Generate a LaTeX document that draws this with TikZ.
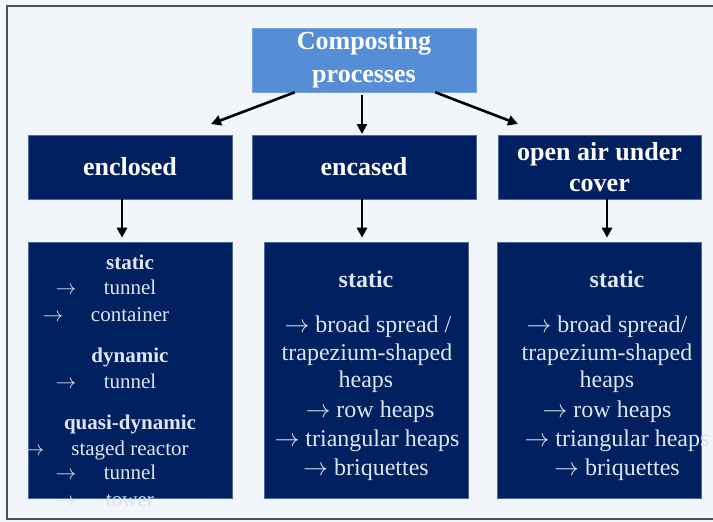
\documentclass[tikz,border=0pt]{standalone}
\usepackage{fontspec}
\setmainfont{Liberation Serif}
\usetikzlibrary{arrows.meta,calc}

\definecolor{pagebg}{HTML}{F2F5FA}
\definecolor{navy}{HTML}{002060}
\definecolor{navyedge}{HTML}{4A6A9C}
\definecolor{headblue}{HTML}{558ED5}
\definecolor{listtext}{HTML}{DCE6F2}
\definecolor{framegray}{HTML}{505050}
\definecolor{fadedtext}{HTML}{D4E3F2}

\tikzset{
  headbox/.style={draw=headblue!80!white, line width=0.6pt, fill=headblue, text=white,
    font=\bfseries\fontsize{26}{33}\selectfont, align=center, inner sep=0pt},
  catbox/.style={draw=navyedge, line width=0.6pt, fill=navy, text=white,
    font=\bfseries\fontsize{26}{31}\selectfont, align=center, inner sep=0pt},
  listbox/.style={draw=navyedge, line width=0.6pt, fill=navy, inner sep=0pt},
  bigitem/.style={text=listtext, font=\fontsize{24}{29}\selectfont, anchor=mid, inner sep=0pt,
    yshift=-5pt},
  bighead/.style={bigitem, font=\bfseries\fontsize{24}{29}\selectfont},
  smallitem/.style={text=listtext, font=\fontsize{21}{25}\selectfont, anchor=mid, inner sep=0pt,
    yshift=-4pt},
  smallhead/.style={smallitem, font=\bfseries\fontsize{21}{25}\selectfont},
  flow/.style={line width=2.6pt, -{Triangle[length=10pt,width=10pt]}},
}

\begin{document}
\begin{tikzpicture}[x=1pt,y=-1pt]
  % page and frame
  \fill[pagebg] (0,0) rectangle (713,522);
  \useasboundingbox (0,0) rectangle (713,522);
  \draw[framegray, line width=1.5pt] (713,6) -- (7,6) -- (7,519) -- (713,519);

  % top level
  \node[headbox, minimum width=224pt, minimum height=64pt] (top) at (364,60)
    {Composting\\processes};

  % categories
  \node[catbox, minimum width=204pt, minimum height=64pt] (encl) at (130,167) {enclosed};
  \node[catbox, minimum width=224pt, minimum height=64pt] (enca) at (364,167) {encased};
  \node[catbox, minimum width=203pt, minimum height=64pt] (open) at (599.5,167)
    {open air under\\cover};

  % detail boxes
  \node[listbox, minimum width=204pt, minimum height=256pt] (enclL) at (130,370) {};
  \node[listbox, minimum width=204pt, minimum height=256pt] (encaL) at (366,370) {};
  \node[listbox, minimum width=204pt, minimum height=256pt] (openL) at (599,370) {};

  % arrows from the top box
  \coordinate (tipL) at (211,124);
  \coordinate (tipM) at (362,134);
  \coordinate (tipR) at (518,124);
  \draw[flow] ([xshift=43pt]top.south west) -- (tipL);
  \draw[flow] ([yshift=-3pt]top.south -| tipM) -- (tipM);
  \draw[flow] ([xshift=-41pt]top.south east) -- (tipR);

  % arrows from categories to details
  \draw[flow, shorten >=4pt] (encl.south -| 122,0) -- (enclL.north -| 122,0);
  \draw[flow, shorten >=4pt] (enca.south -| 362,0) -- (encaL.north -| 362,0);
  \draw[flow, shorten >=4pt] (open.south -| 607,0) -- (openL.north -| 607,0);

  % enclosed: list
  \node[smallhead] (a1) at (130,263) {static};
  \node[smallitem] (a2a) at (66,288) {$\rightarrow$};
  \node[smallitem] (a2) at (130,288) {tunnel};
  \node[smallitem] (a3a) at (53,315) {$\rightarrow$};
  \node[smallitem] (a3) at (130,315) {container};
  \node[smallhead] (a4) at (130,356) {dynamic};
  \node[smallitem] (a5a) at (66,382) {$\rightarrow$};
  \node[smallitem] (a5) at (130,382) {tunnel};
  \node[smallhead] (a6) at (130,423) {quasi-dynamic};
  \node[smallitem] (a7a) at (34,449) {$\rightarrow$};
  \node[smallitem] (a7) at (130,449) {staged reactor};
  \node[smallitem] (a8a) at (66,473) {$\rightarrow$};
  \node[smallitem] (a8) at (130,473) {tunnel};
  \node[smallitem, text=fadedtext] (a9a) at (66,500) {$\rightarrow$};
  \node[smallitem, text=fadedtext] (a9) at (130,500) {tower};

  % encased: list
  \node[bighead] (b1) at (366,280) {static};
  \node[bigitem] (b2) at (368,325) {$\rightarrow$ broad spread /};
  \node[bigitem] (b3) at (367,353) {trapezium-shaped};
  \node[bigitem] (b4) at (366,380) {heaps};
  \node[bigitem] (b5) at (370,410) {$\rightarrow$ row heaps};
  \node[bigitem] (b6) at (367,439) {$\rightarrow$ triangular heaps};
  \node[bigitem] (b7) at (366,468) {$\rightarrow$ briquettes};

  % open air under cover: list
  \node[bighead] (c1) at (617,280) {static};
  \node[bigitem] (c2) at (607,325) {$\rightarrow$ broad spread/};
  \node[bigitem] (c3) at (607,353) {trapezium-shaped};
  \node[bigitem] (c4) at (607,380) {heaps};
  \node[bigitem] (c5) at (607,410) {$\rightarrow$ row heaps};
  \node[bigitem] (c6) at (617,439) {$\rightarrow$ triangular heap\textcolor{fadedtext}{s}};
  \node[bigitem] (c7) at (617,468) {$\rightarrow$ briquettes};
\end{tikzpicture}
\end{document}
